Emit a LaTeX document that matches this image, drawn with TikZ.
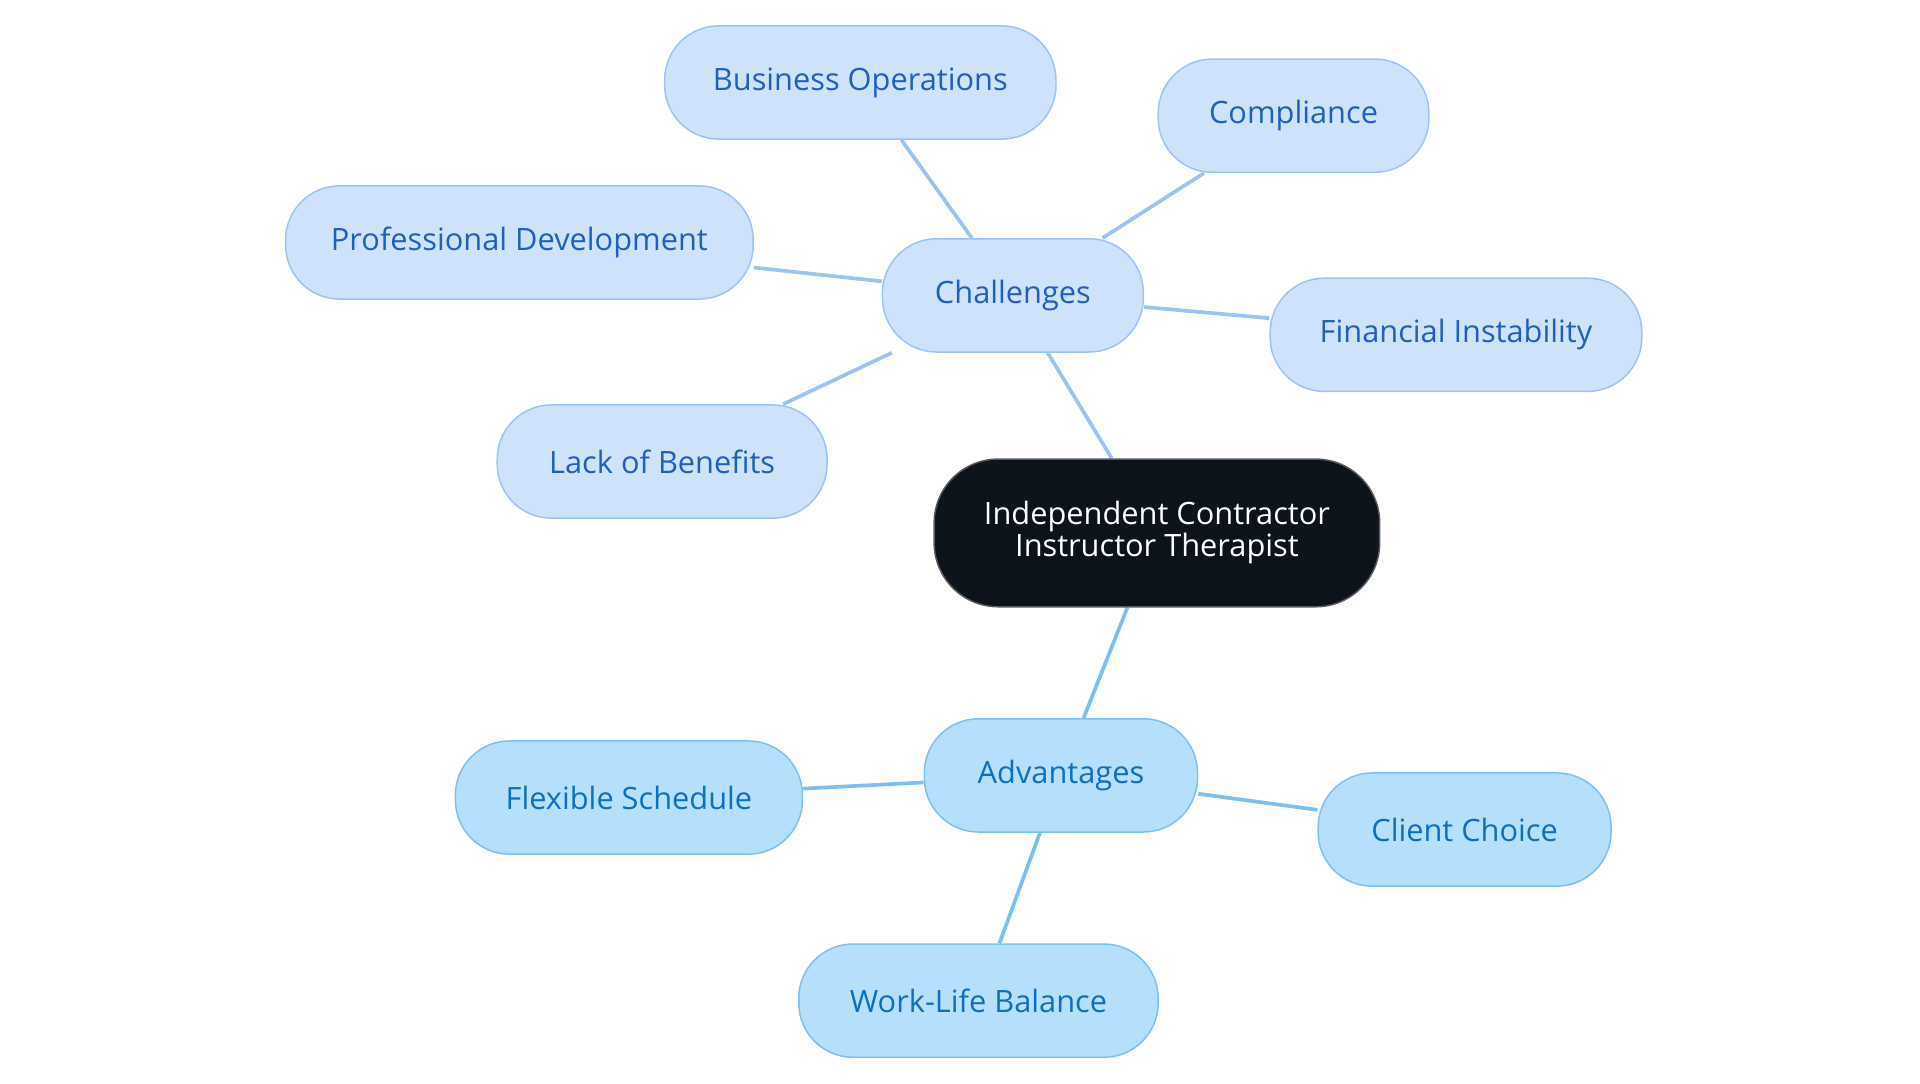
\documentclass[tikz,border=0pt]{standalone}
\usepackage{fontspec}
\setmainfont{Open Sans}
\usetikzlibrary{backgrounds}
\definecolor{cfill}{HTML}{CFE2FB}
\definecolor{cdraw}{HTML}{9CC4F0}
\definecolor{ctext}{HTML}{1F5FBF}
\definecolor{afill}{HTML}{B5DFFC}
\definecolor{adraw}{HTML}{7CC0F0}
\definecolor{atext}{HTML}{0D6FBF}
\definecolor{rootfill}{HTML}{0D131B}
\tikzset{x=0.5pt,y=-0.5pt,
 box/.style={rounded corners=22pt,line width=0.6pt,minimum height=46pt,font=\fontsize{12.5}{15}\selectfont,inner sep=0pt},
 cbox/.style={box,fill=cfill,draw=cdraw,text=ctext},
 abox/.style={box,fill=afill,draw=adraw,text=atext},
 cedge/.style={draw=cdraw,line width=1.5pt},
 aedge/.style={draw=adraw,line width=1.5pt}}
\begin{document}
\begin{tikzpicture}
\useasboundingbox (0,0) rectangle (1560,880);
\node[box,fill=rootfill,draw=gray!70!black,text=white,minimum width=181pt,minimum height=60pt,align=center,rounded corners=26pt] (root) at (940,433) {Independent Contractor\\[-2pt]Instructor Therapist};
\node[cbox,minimum width=106pt] (ch) at (823,240) {Challenges};
\node[cbox,minimum width=159pt] (bo) at (699,67) {Business Operations};
\node[cbox,minimum width=110pt] (co) at (1051,94) {Compliance};
\node[cbox,minimum width=190pt] (pd) at (422,197) {Professional Development};
\node[cbox,minimum width=151pt] (fi) at (1183,272) {Financial Instability};
\node[cbox,minimum width=134pt] (lb) at (538,375) {Lack of Benefits};
\node[abox,minimum width=111pt] (ad) at (862,630) {Advantages};
\node[abox,minimum width=141pt] (fs) at (511,648) {Flexible Schedule};
\node[abox,minimum width=119pt] (cc) at (1190,674) {Client Choice};
\node[abox,minimum width=146pt] (wl) at (795,813) {Work-Life Balance};
\begin{scope}[on background layer]
\draw[cedge] (root) -- (ch);
\draw[cedge] (ch) -- (bo);
\draw[cedge] (ch) -- (co);
\draw[cedge] (ch) -- (pd);
\draw[cedge] (ch) -- (fi);
\draw[cedge] (ch) -- (lb);
\draw[aedge] (root) -- (ad);
\draw[aedge] (ad) -- (fs);
\draw[aedge] (ad) -- (cc);
\draw[aedge] (ad) -- (wl);
\end{scope}
\end{tikzpicture}
\end{document}
